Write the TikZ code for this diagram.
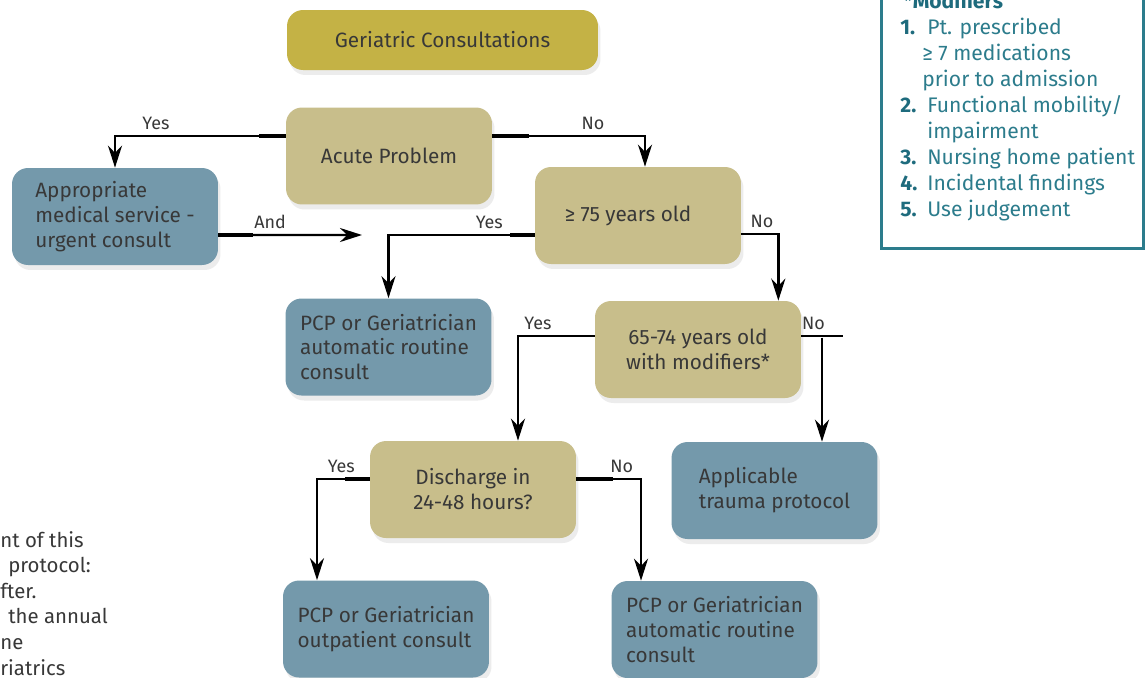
\documentclass[tikz,border=0pt]{standalone}
\usepackage{fontspec}
\setmainfont{Fira Sans}
\usetikzlibrary{arrows.meta,shadows,positioning}
\definecolor{gcgold}{HTML}{C4B245}
\definecolor{khaki}{HTML}{C8BE8B}
\definecolor{steel}{HTML}{7499AB}
\definecolor{inkgray}{HTML}{383838}
\definecolor{modteal}{HTML}{2C7C8C}
\definecolor{modnum}{HTML}{1E6B7D}

\tikzset{
  card/.style={rounded corners=0.32cm, minimum width=4.12cm, minimum height=1.94cm,
    align=left, text=inkgray, font=\fontsize{11.8}{14.2}\selectfont,
    drop shadow={shadow xshift=0.05cm, shadow yshift=-0.1cm, opacity=0.15}},
  query/.style={card, fill=khaki, align=center},
  outcome/.style={card, fill=steel},
  flow/.style={line width=1.4pt, -{Stealth[length=0.44cm,width=0.28cm]}},
  wire/.style={line width=1.4pt},
  stub/.style={line width=2.8pt},
  lbl/.style={font=\fontsize{10.2}{11}\selectfont, text=inkgray, inner sep=1pt, above=2pt},
}

\begin{document}
\begin{tikzpicture}[x=0.02cm, y=-0.02cm]
\useasboundingbox[fill=white] (0,0) rectangle (1145,677);

% boxes
\node[card, fill=gcgold, minimum width=6.22cm, minimum height=1.2cm, align=center] (consult) at (442.5,40) {Geriatric Consultations};
\node[query] (acute) at (389,156) {Acute Problem};
\node[outcome] (urgent) at (115,216.5) {Appropriate\\medical service -\\urgent consult};
\node[query] (age75) at (638,215.5) {≥ 75 years old\hspace*{0.4cm}};
\node[outcome] (routineA) at (388.5,347) {PCP or Geriatrician\\automatic routine\\consult};
\node[query] (age65) at (698,349.5) {65-74 years old\\with modifiers*};
\node[query] (discharge) at (473,489.5) {Discharge in\\24-48 hours?};
\node[outcome] (trauma) at (774.5,490.5) {Applicable\\trauma protocol};
\node[outcome] (outpatient) at (386,629) {PCP or Geriatrician\\outpatient consult};
\node[outcome] (routineB) at (714.5,629.5) {PCP or Geriatrician\\automatic routine\\consult};
\coordinate (andend) at (362,235);

% connectors
\draw[flow] ([yshift=4mm]acute.west) -| (urgent.north) node[lbl, pos=0.38] {Yes};
\draw[stub] ([yshift=4mm]acute.west) -- ++(-0.54cm,0);
\draw[flow] ([yshift=4mm]acute.east) -| ([xshift=0.14cm]age75.north) node[lbl, pos=0.33] {No};
\draw[stub] ([yshift=4mm]acute.east) -- ++(0.74cm,0);
\draw[flow] ([yshift=-3.7mm]urgent.east) -- (andend) node[lbl, pos=0.36] {And};
\draw[stub] ([yshift=-3.7mm]urgent.east) -- ++(0.7cm,0);
\draw[flow] ([yshift=-3.9mm]age75.west) -| (routineA.north) node[lbl, pos=0.155] {Yes};
\draw[stub] ([yshift=-3.9mm]age75.west) -- ++(-0.5cm,0);
\draw[flow] ([yshift=-3.7mm]age75.east) -| ([xshift=-0.46cm]age65.north east) node[lbl, pos=0.28] {No};
\draw[flow] ([yshift=2.7mm]age65.west) -| ([xshift=0.9cm]discharge.north) node[lbl, pos=0.37] {Yes};
\draw[wire] ([yshift=2.7mm]age65.east) -- ++(0.84cm,0) node[lbl, pos=0.29] {No};
\draw[flow] ([xshift=0.95cm,yshift=2.08cm]trauma.north) -- ([xshift=0.95cm]trauma.north);
\draw[flow] ([yshift=2.1mm]discharge.west) -| ([xshift=-1.38cm]outpatient.north) node[lbl, pos=0.27] {Yes};
\draw[stub] ([yshift=2.1mm]discharge.west) -- ++(-0.5cm,0);
\draw[flow] ([yshift=2.1mm]discharge.east) -| ([xshift=-1.47cm]routineB.north) node[lbl, pos=0.35] {No};
\draw[stub] ([yshift=2.1mm]discharge.east) -- ++(0.74cm,0);

% modifiers
\draw[modteal, line width=1.7pt] (881,-20) rectangle (1143,248);
\node[anchor=base west, inner sep=0pt, text=modteal, font=\fontsize{12}{14.8}\selectfont] (modlist) at (900,8) {%
  \begin{tabular}[t]{@{}l@{\hspace{0.2cm}}l@{}}
  \multicolumn{2}{@{}l@{}}{\hspace*{0.06cm}\textcolor{modnum}{\bfseries *Modifiers}}\\
  \textcolor{modnum}{\bfseries 1.} & Pt. prescribed\\
   & \hspace*{-0.1cm}≥ 7 medications\\
   & \hspace*{-0.1cm}prior to admission\\
  \textcolor{modnum}{\bfseries 2.} & Functional mobility/\\
   & impairment\\
  \textcolor{modnum}{\bfseries 3.} & Nursing home patient\\
  \textcolor{modnum}{\bfseries 4.} & Incidental findings\\
  \textcolor{modnum}{\bfseries 5.} & Use judgement
  \end{tabular}};

% notes cut at the left edge
\node[anchor=base west, inner sep=0pt, text=inkgray, font=\fontsize{11.6}{14.6}\selectfont] (notes) at (0,547) {%
  \begin{tabular}[t]{@{}l@{}}
  nt of this\\
  \hspace*{0.16cm}protocol:\\
  fter.\\
  \hspace*{0.16cm}the annual\\
  ne\\
  riatrics
  \end{tabular}};
\end{tikzpicture}
\end{document}
